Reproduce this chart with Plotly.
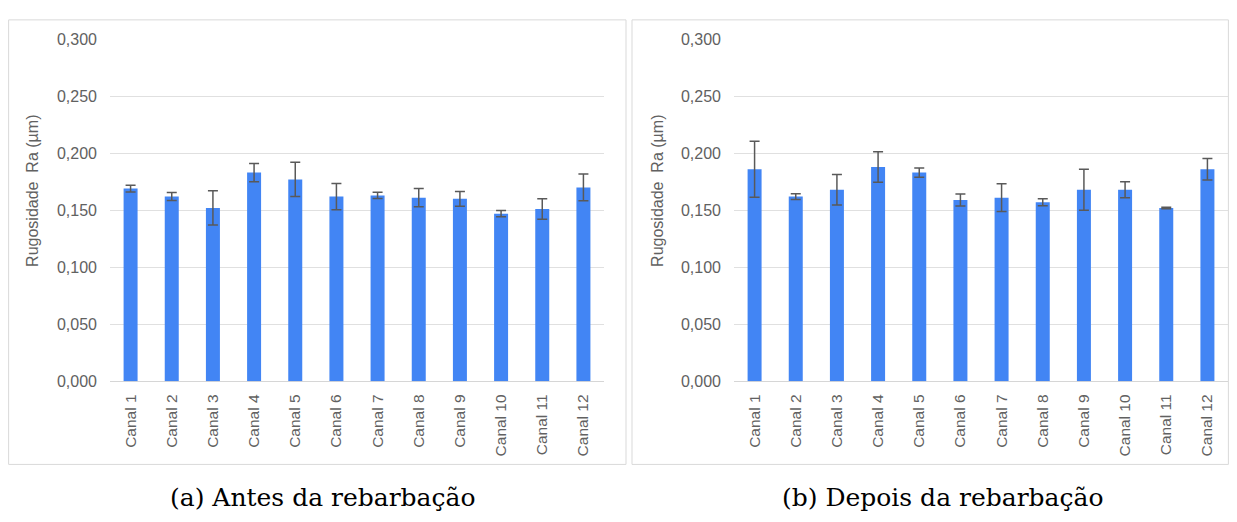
import plotly.graph_objects as go

canais = [f"Canal {i}" for i in range(1, 13)]
antes = [0.169, 0.162, 0.152, 0.183, 0.177, 0.162, 0.163, 0.161, 0.160, 0.147, 0.151, 0.170]
antes_err = [0.003, 0.0035, 0.015, 0.008, 0.015, 0.0115, 0.0027, 0.008, 0.0065, 0.0027, 0.009, 0.0117]
depois = [0.186, 0.162, 0.168, 0.188, 0.183, 0.159, 0.161, 0.157, 0.168, 0.168, 0.152, 0.186]
depois_err = [0.0245, 0.0025, 0.0134, 0.0134, 0.004, 0.0053, 0.0122, 0.003, 0.018, 0.007, 0.0006, 0.0094]
y_ticks = [0.0, 0.05, 0.10, 0.15, 0.20, 0.25, 0.30]
y_ticktext = ["0,000", "0,050", "0,100", "0,150", "0,200", "0,250", "0,300"]
y_title = "Rugosidade  Ra (µm)"
captions = ["(a) Antes da rebarbação", "(b) Depois da rebarbação"]

# page has an 8px body margin; figure sized so the page is exactly 1237x522
OFF = 8
W, H = 1237 - 2 * OFF, 522 - 2 * OFF
BLUE = "#4285F4"
GRID = "#e0e0e0"
TXT = "#616161"
FONT = "Liberation Sans, Arial, sans-serif"

fig = go.Figure()
for i, (vals, errs) in enumerate([(antes, antes_err), (depois, depois_err)]):
    sfx = "" if i == 0 else "2"
    fig.add_trace(go.Bar(
        x=canais, y=vals, marker=dict(color=BLUE, line=dict(width=0)),
        error_y=dict(type="data", array=errs, visible=True, color="#595959", thickness=1.5, width=5),
        xaxis="x" + sfx, yaxis="y" + sfx, showlegend=False,
    ))

def px_x(p):
    return max(0.0005, min(0.9995, (p - OFF) / W))

def px_y(p):
    return max(0.0005, min(0.9995, 1 - (p - OFF) / H))

ydom = [px_y(386), px_y(32)]
xdoms = [[px_x(110), px_x(604)], [px_x(734), px_x(1228)]]

axis_common_x = dict(tickangle=-90, tickfont=dict(family=FONT, size=15.5, color=TXT),
                     showgrid=False, showline=False, ticks="", ticklabelstandoff=9, fixedrange=True)
axis_common_y = dict(range=[0, 0.3], tickvals=y_ticks, ticktext=y_ticktext,
                     tickfont=dict(family=FONT, size=16, color=TXT), showgrid=True,
                     gridcolor=GRID, gridwidth=1, zeroline=True, zerolinecolor="#d6d6d6",
                     zerolinewidth=1, showline=False, ticks="", ticklabelstandoff=12,
                     fixedrange=True)

fig.update_layout(
    width=W, height=H, margin=dict(l=0, r=0, t=0, b=0),
    paper_bgcolor="white", plot_bgcolor="white", bargap=0.66,
    xaxis=dict(domain=xdoms[0], anchor="y", **axis_common_x),
    yaxis=dict(domain=ydom, anchor="x", **axis_common_y),
    xaxis2=dict(domain=xdoms[1], anchor="y2", **axis_common_x),
    yaxis2=dict(domain=ydom, anchor="x2", **axis_common_y),
)

# panel borders
for x0, x1 in [(8.5, 626), (632, 1228.5)]:
    fig.add_shape(type="rect", xref="paper", yref="paper",
                  x0=px_x(x0), x1=px_x(x1), y0=px_y(472), y1=px_y(12),
                  line=dict(color="#d9d9d9", width=1), layer="below")

# y titles
for xc in [33, 658]:
    fig.add_annotation(text=y_title, xref="paper", yref="paper", x=px_x(xc), y=px_y(189),
                       textangle=-90, showarrow=False, font=dict(family=FONT, size=16, color=TXT),
                       xanchor="center", yanchor="middle")

# captions
for xc, cap in zip([322, 942], captions):
    fig.add_annotation(text=cap, xref="paper", yref="paper", x=px_x(xc), y=px_y(506),
                       showarrow=False, font=dict(family="DejaVu Serif, serif", size=25, color="black"),
                       xanchor="center", yanchor="middle")

fig.write_html("out.html", config={"displayModeBar": False})
